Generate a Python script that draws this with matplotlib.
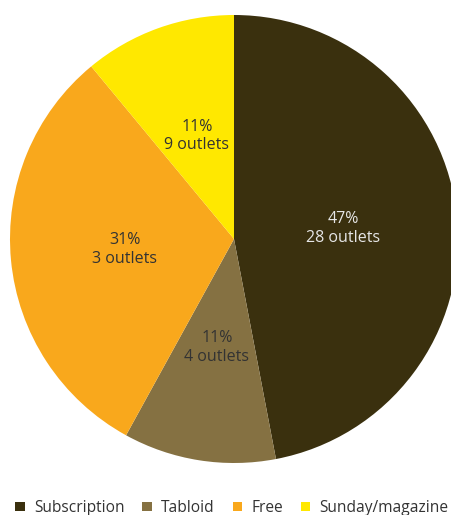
import numpy as np
import matplotlib.pyplot as plt

plt.rcParams['font.family'] = ['Open Sans', 'DejaVu Sans']

categories = ["Subscription", "Tabloid", "Free", "Sunday/magazine"]
shares = [47, 11, 31, 11]
outlets = [28, 4, 3, 9]
colors = ["#3a300e", "#857142", "#f9a81c", "#ffe800"]
text_colors = ["#e6e6e6", "#333333", "#333333", "#333333"]

fig = plt.figure(figsize=(4.52, 5.15), dpi=100)
ax = fig.add_axes([10 / 452, 52 / 515, 448 / 452, 448 / 515])

wedges, _ = ax.pie(shares, colors=colors, startangle=90, counterclock=False,
                   radius=1.0, wedgeprops=dict(linewidth=0))

# percentage + outlet count in the middle of each slice
for w, s, n, tc in zip(wedges, shares, outlets, text_colors):
    mid = np.deg2rad((w.theta1 + w.theta2) / 2)
    r = 0.49
    ax.text(r * np.cos(mid), r * np.sin(mid), f"{s}%\n{n} outlets",
            ha="center", va="center", fontsize=11.5, color=tc, linespacing=1.2)

ax.set_xlim(-1, 1)
ax.set_ylim(-1, 1)
ax.set_aspect("equal")
ax.axis("off")

leg = fig.legend(wedges, categories, loc="lower left", bbox_to_anchor=(0.02, -0.014),
                 ncol=4, frameon=False, fontsize=11.2, handlelength=0.6,
                 handleheight=0.6, handletextpad=0.6, columnspacing=1.15,
                 borderaxespad=0)
for t in leg.get_texts():
    t.set_color("#333333")

fig.savefig("out.png", dpi=100)
